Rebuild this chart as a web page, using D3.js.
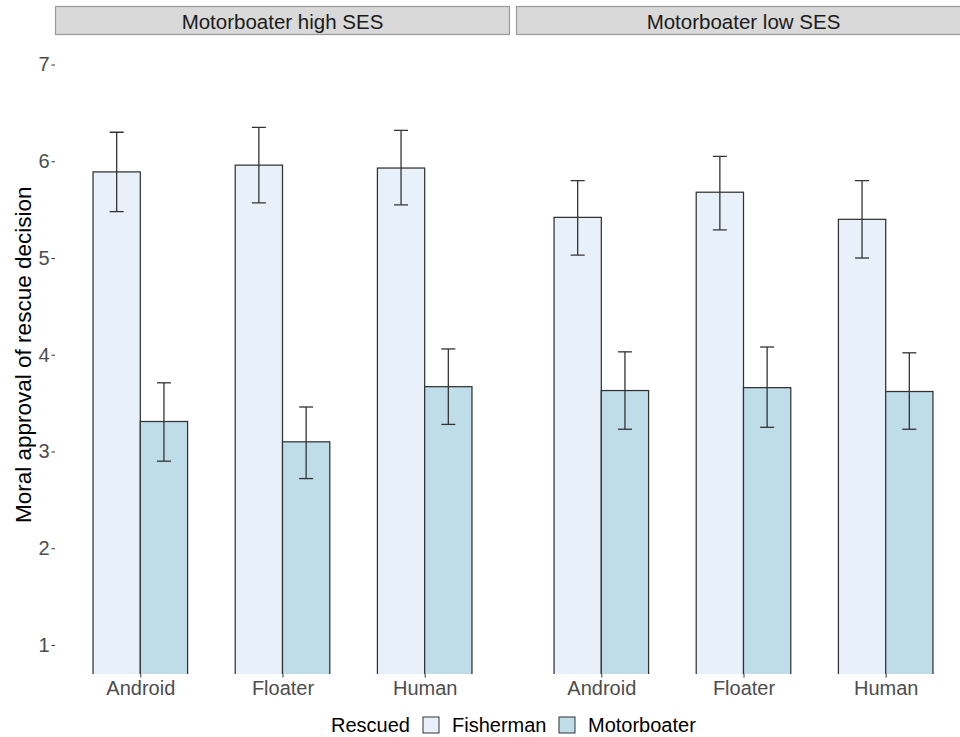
<!DOCTYPE html>
<html>
<head>
<meta charset="utf-8">
<script src="https://cdn.jsdelivr.net/npm/d3@7"></script>
<style>
  html, body { margin: 0; padding: 0; background: #fff; }
  svg { display: block; font-family: "Liberation Sans", Arial, Helvetica, sans-serif; }
</style>
</head>
<body>
<svg id="chart" width="960" height="737"></svg>
<script>
// Facets, categories and groups
const panels = ["Motorboater high SES", "Motorboater low SES"];
const targets = ["Android", "Floater", "Human"];
const rescued = ["Fisherman", "Motorboater"];
const yTicks = [1, 2, 3, 4, 5, 6, 7];

// Mean approval per panel, target (rows) and rescued group (columns)
const meanHigh = [[5.89, 3.31], [5.96, 3.10], [5.93, 3.67]];
const meanLow  = [[5.42, 3.63], [5.68, 3.66], [5.40, 3.62]];
// Lower / upper error bar limits, same layout
const lowHigh  = [[5.48, 2.90], [5.57, 2.72], [5.55, 3.28]];
const upHigh   = [[6.30, 3.71], [6.35, 3.46], [6.32, 4.06]];
const lowLow   = [[5.03, 3.23], [5.29, 3.25], [5.00, 3.23]];
const upLow    = [[5.80, 4.03], [6.05, 4.08], [5.80, 4.02]];

const fills = ["#e8f1fa", "#bfdce9"];

const rows = [];
[[meanHigh, lowHigh, upHigh], [meanLow, lowLow, upLow]].forEach(([m, lo, hi], p) => {
  targets.forEach((t, i) => {
    rescued.forEach((r, j) => {
      rows.push({ panel: panels[p], target: t, rescued: r, mean: m[i][j], lo: lo[i][j], hi: hi[i][j] });
    });
  });
});

const svg = d3.select("#chart");

const panelTop = 35.5, panelBottom = 674;
const panelW = 455;
const panelLefts = [55, 516];

// y: 1..7 with 5% expansion, as a clipped (cartesian) range
const y = d3.scaleLinear().domain([0.7, 7.3]).range([panelBottom, panelTop]);

const xPos = d3.scalePoint().domain(targets).range([0, panelW]).padding(0.6);
const step = xPos.step();
const dodge = d3.scaleBand().domain(rescued).range([-0.665 * step / 2, 0.665 * step / 2]);
const capW = 14;

const defs = svg.append("defs");

panels.forEach((name, p) => {
  const left = panelLefts[p];
  const g = svg.append("g").attr("transform", `translate(${left},0)`);

  // strip
  g.append("rect")
    .attr("x", 0.5).attr("y", 6.5)
    .attr("width", panelW - 1).attr("height", 28)
    .attr("fill", "#d9d9d9").attr("stroke", "#9a9a9a").attr("stroke-width", 1.2);
  g.append("text")
    .attr("x", panelW / 2).attr("y", 21)
    .attr("text-anchor", "middle").attr("dominant-baseline", "central")
    .attr("font-size", 20.5).attr("fill", "#1a1a1a")
    .text(name);

  const clipId = "clip" + p;
  defs.append("clipPath").attr("id", clipId)
    .append("rect").attr("x", 0).attr("y", panelTop).attr("width", panelW).attr("height", panelBottom - panelTop);

  const plot = g.append("g").attr("clip-path", `url(#${clipId})`);
  const data = rows.filter(d => d.panel === name);

  plot.selectAll("rect.bar").data(data).join("rect")
    .attr("class", "bar")
    .attr("x", d => xPos(d.target) + dodge(d.rescued))
    .attr("width", dodge.bandwidth())
    .attr("y", d => y(d.mean))
    .attr("height", d => y(0) - y(d.mean))
    .attr("fill", d => fills[rescued.indexOf(d.rescued)])
    .attr("stroke", "#333").attr("stroke-width", 1.25);

  const eb = plot.selectAll("g.eb").data(data).join("g").attr("class", "eb")
    .attr("stroke", "#333").attr("stroke-width", 1.3).attr("fill", "none");
  const cx = d => xPos(d.target) + dodge(d.rescued) + dodge.bandwidth() / 2;
  eb.append("line").attr("x1", cx).attr("x2", cx).attr("y1", d => y(d.lo)).attr("y2", d => y(d.hi));
  eb.append("line").attr("x1", d => cx(d) - capW / 2).attr("x2", d => cx(d) + capW / 2)
    .attr("y1", d => y(d.hi)).attr("y2", d => y(d.hi));
  eb.append("line").attr("x1", d => cx(d) - capW / 2).attr("x2", d => cx(d) + capW / 2)
    .attr("y1", d => y(d.lo)).attr("y2", d => y(d.lo));

  // x axis
  const xAxis = g.append("g").attr("transform", `translate(0,${panelBottom})`)
    .call(d3.axisBottom(xPos).tickSize(3.5).tickPadding(3));
  xAxis.select(".domain").remove();
  xAxis.selectAll(".tick line").attr("stroke", "#333");
  xAxis.selectAll(".tick text")
    .attr("font-size", 20).attr("fill", "#4d4d4d")
    .attr("font-family", "Liberation Sans, Arial, sans-serif");
});

// y axis
const yAxis = svg.append("g").attr("transform", `translate(${panelLefts[0]},0)`)
  .call(d3.axisLeft(y).tickValues(yTicks).tickFormat(d3.format("d")).tickSize(3.5).tickPadding(2));
yAxis.select(".domain").remove();
yAxis.selectAll(".tick line").attr("stroke", "#333");
yAxis.selectAll(".tick text")
  .attr("font-size", 20).attr("fill", "#4d4d4d")
  .attr("font-family", "Liberation Sans, Arial, sans-serif");

// y title
svg.append("text")
  .attr("transform", `translate(23,${(panelTop + panelBottom) / 2}) rotate(-90)`)
  .attr("text-anchor", "middle").attr("dominant-baseline", "central")
  .attr("font-size", 22.5).attr("fill", "#000")
  .text("Moral approval of rescue decision");

// legend
const leg = svg.append("g").attr("font-size", 20);
const legY = 725;
leg.append("text").attr("x", 331).attr("y", legY).attr("dominant-baseline", "central").text("Rescued");
const legItems = [{ x: 423, label: rescued[0] }, { x: 559, label: rescued[1] }];
legItems.forEach((it, i) => {
  leg.append("rect").attr("x", it.x).attr("y", legY - 8).attr("width", 16).attr("height", 16)
    .attr("fill", fills[i]).attr("stroke", "#333").attr("stroke-width", 1);
  leg.append("text").attr("x", it.x + 29).attr("y", legY).attr("dominant-baseline", "central").text(it.label);
});
</script>
</body>
</html>
